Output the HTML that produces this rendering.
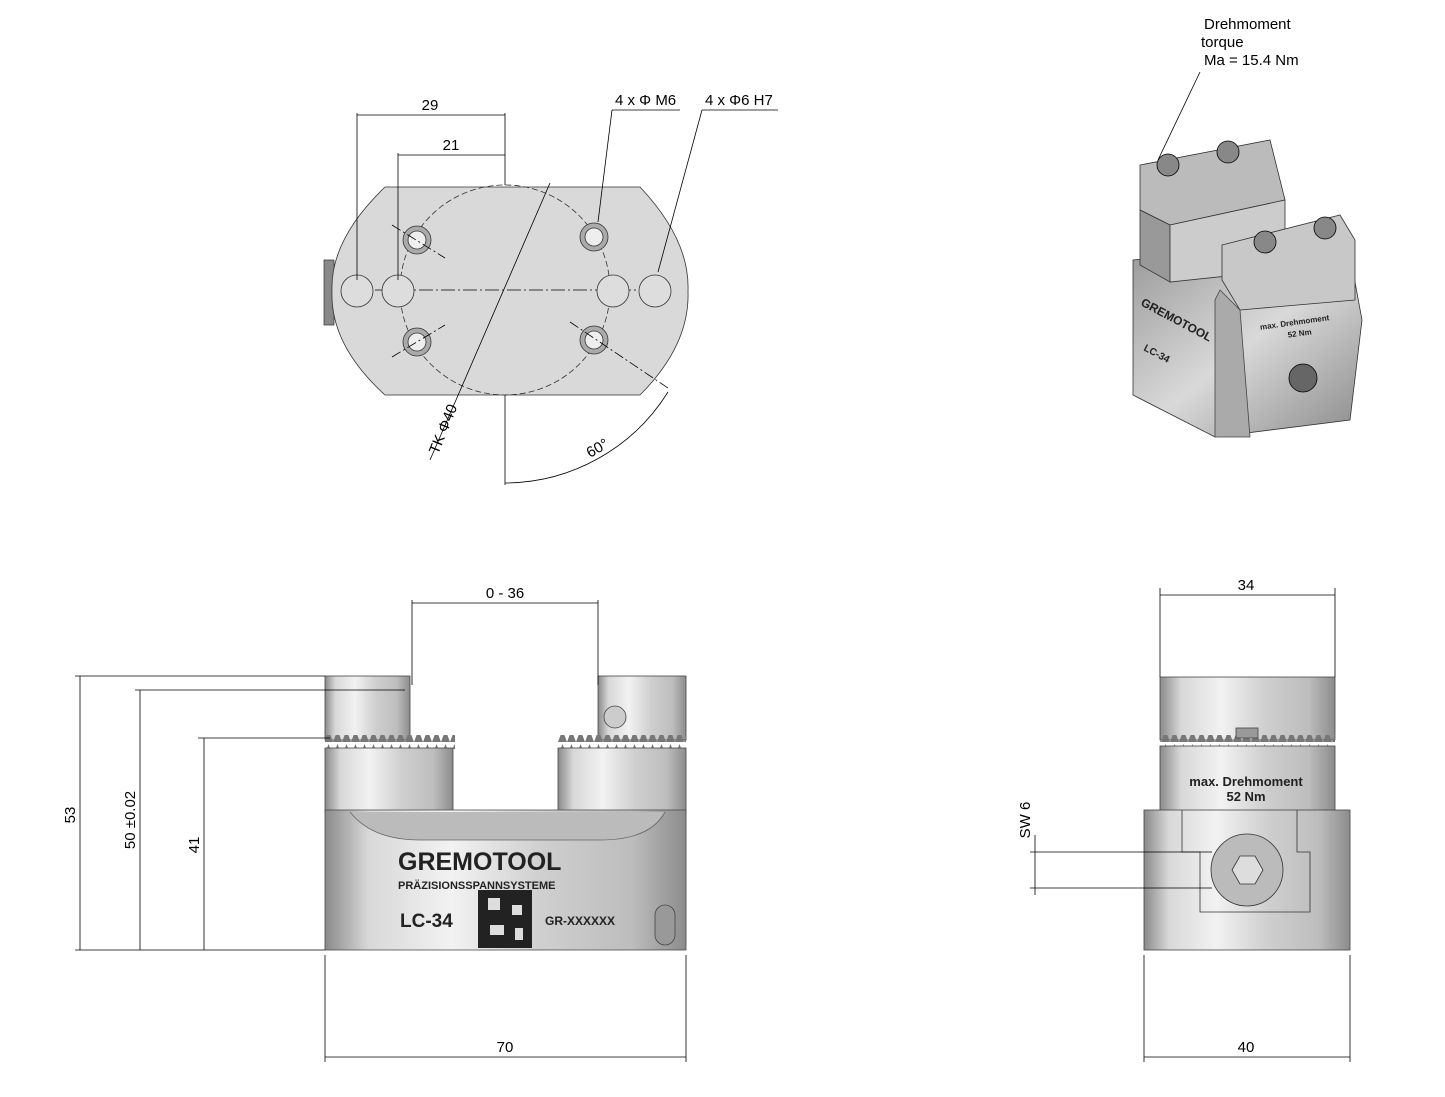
<!DOCTYPE html>
<html><head><meta charset="utf-8"><style>
html,body{margin:0;padding:0;background:#fff;}
svg{display:block;font-family:"Liberation Sans",sans-serif;}
</style></head><body>
<svg width="1445" height="1097" viewBox="0 0 1445 1097" xmlns="http://www.w3.org/2000/svg">
<defs>
<linearGradient id="mh" x1="0" x2="1" y1="0" y2="0">
<stop offset="0" stop-color="#8a8a8a"/><stop offset="0.12" stop-color="#d8d8d8"/><stop offset="0.35" stop-color="#f2f2f2"/><stop offset="0.6" stop-color="#cfcfcf"/><stop offset="0.85" stop-color="#bdbdbd"/><stop offset="1" stop-color="#8c8c8c"/>
</linearGradient>
<linearGradient id="mv" x1="0" x2="0" y1="0" y2="1">
<stop offset="0" stop-color="#b5b5b5"/><stop offset="0.4" stop-color="#e6e6e6"/><stop offset="1" stop-color="#9a9a9a"/>
</linearGradient>
<linearGradient id="iso" x1="0" x2="1" y1="0" y2="1">
<stop offset="0" stop-color="#9a9a9a"/><stop offset="0.5" stop-color="#d9d9d9"/><stop offset="1" stop-color="#8a8a8a"/>
</linearGradient>
<pattern id="serr" width="9" height="14" patternUnits="userSpaceOnUse"><path d="M0 14 L4.5 2 L9 14Z" fill="#777"/></pattern>
</defs>
<g fill="none" stroke="#000" stroke-width="0.8">

<!-- TOP VIEW -->
<rect x="324" y="260" width="10" height="65" fill="#888" stroke="#444"/>
<path d="M385 187 H640 Q690 240 688 291 Q690 345 640 395 H385 Q330 345 332 291 Q330 240 385 187Z" fill="#d9d9d9" stroke="#333"/>
<circle cx="505" cy="290" r="105" stroke-dasharray="6 3" stroke="#333"/>
<line x1="375" y1="290" x2="640" y2="290" stroke-dasharray="14 3 2 3"/>
<g fill="#ddd" stroke="#333">
<circle cx="357" cy="291" r="16"/><circle cx="398" cy="291" r="16"/><circle cx="613" cy="291" r="16"/><circle cx="655" cy="291" r="16"/>
<circle cx="417" cy="240" r="14" fill="#aaa"/><circle cx="594" cy="237" r="14" fill="#aaa"/><circle cx="417" cy="342" r="14" fill="#aaa"/><circle cx="594" cy="340" r="14" fill="#aaa"/>
<circle cx="417" cy="240" r="9" fill="#eee"/><circle cx="594" cy="237" r="9" fill="#eee"/><circle cx="417" cy="342" r="9" fill="#eee"/><circle cx="594" cy="340" r="9" fill="#eee"/>
</g>
<line x1="392" y1="225" x2="445" y2="258" stroke-dasharray="10 3 2 3"/>
<line x1="392" y1="357" x2="445" y2="325" stroke-dasharray="10 3 2 3"/>
<line x1="570" y1="322" x2="668" y2="388" stroke-dasharray="10 3 2 3"/>
<line x1="357" y1="113" x2="357" y2="280"/><line x1="505" y1="113" x2="505" y2="185"/>
<line x1="357" y1="115" x2="505" y2="115"/>
<line x1="398" y1="153" x2="398" y2="280"/>
<line x1="398" y1="155" x2="505" y2="155"/>
<line x1="505" y1="395" x2="505" y2="485"/>
<line x1="598" y1="222" x2="612" y2="110"/><line x1="612" y1="110" x2="680" y2="110"/>
<line x1="658" y1="272" x2="702" y2="110"/><line x1="702" y1="110" x2="778" y2="110"/>
<line x1="550" y1="183" x2="430" y2="460"/>
<path d="M505 483 A193 193 0 0 0 668 392"/>

<!-- FRONT VIEW -->
<rect x="325" y="676" width="85" height="64" fill="url(#mh)" stroke="#444"/>
<rect x="598" y="676" width="88" height="64" fill="url(#mh)" stroke="#444"/>
<circle cx="615" cy="717" r="11" fill="#ccc" stroke="#444"/>
<rect x="325" y="735" width="130" height="14" fill="url(#serr)" stroke="none"/>
<rect x="558" y="735" width="128" height="14" fill="url(#serr)" stroke="none"/>
<rect x="325" y="748" width="128" height="65" fill="url(#mh)" stroke="#444"/>
<rect x="558" y="748" width="128" height="65" fill="url(#mh)" stroke="#444"/>
<path d="M325 810 H686 V950 H325Z" fill="url(#mh)" stroke="#444"/>
<path d="M350 812 Q372 840 420 840 H600 Q650 840 665 812" fill="#bbb" stroke="#666"/>
<rect x="655" y="905" width="20" height="40" rx="10" fill="#999" stroke="#444"/>
<rect x="478" y="890" width="54" height="58" fill="#222" stroke="none"/>
<rect x="488" y="898" width="12" height="12" fill="#ddd" stroke="none"/><rect x="512" y="905" width="10" height="10" fill="#ddd" stroke="none"/><rect x="490" y="925" width="14" height="10" fill="#ddd" stroke="none"/><rect x="515" y="928" width="8" height="12" fill="#ddd" stroke="none"/>
<!-- dims front -->
<line x1="75" y1="676" x2="325" y2="676"/><line x1="135" y1="690" x2="405" y2="690"/><line x1="198" y1="738" x2="330" y2="738"/>
<line x1="75" y1="950" x2="325" y2="950"/>
<line x1="80" y1="676" x2="80" y2="950"/><line x1="140" y1="690" x2="140" y2="950"/><line x1="204" y1="738" x2="204" y2="950"/>
<line x1="412" y1="600" x2="412" y2="685"/><line x1="598" y1="600" x2="598" y2="685"/><line x1="412" y1="603" x2="598" y2="603"/>
<line x1="325" y1="955" x2="325" y2="1062"/><line x1="686" y1="955" x2="686" y2="1062"/><line x1="325" y1="1057" x2="686" y2="1057"/>

<!-- SIDE VIEW -->
<rect x="1160" y="677" width="175" height="63" fill="url(#mh)" stroke="#444"/>
<rect x="1160" y="735" width="175" height="12" fill="url(#serr)" stroke="none"/>
<rect x="1160" y="746" width="175" height="66" fill="url(#mh)" stroke="#444"/>
<rect x="1144" y="810" width="206" height="140" fill="url(#mh)" stroke="#444"/>
<path d="M1182 810 V852 H1200 V912 H1310 V852 H1297 V810" fill="none" stroke="#333"/>
<circle cx="1247" cy="870" r="36" fill="#bbb" stroke="#333"/>
<polygon points="1232,870 1240,856 1255,856 1263,870 1255,884 1240,884" fill="#ddd" stroke="#333"/>
<rect x="1236" y="728" width="22" height="10" fill="#999" stroke="#444"/>
<line x1="1160" y1="588" x2="1160" y2="677"/><line x1="1335" y1="588" x2="1335" y2="677"/><line x1="1160" y1="595" x2="1335" y2="595"/>
<line x1="1144" y1="955" x2="1144" y2="1062"/><line x1="1350" y1="955" x2="1350" y2="1062"/><line x1="1144" y1="1057" x2="1350" y2="1057"/>
<line x1="1030" y1="852" x2="1212" y2="852"/><line x1="1030" y1="888" x2="1212" y2="888"/><line x1="1035" y1="835" x2="1035" y2="895"/>

<!-- ISO VIEW -->
<polygon points="1133,260 1133,395 1215,437 1350,420 1362,320 1350,255 1230,250" fill="url(#iso)" stroke="#333"/>
<polygon points="1140,165 1270,140 1285,200 1170,225 1140,210" fill="#bbb" stroke="#333"/>
<polygon points="1140,210 1170,225 1170,282 1140,265" fill="#999" stroke="#333"/>
<polygon points="1170,225 1285,200 1285,270 1170,282" fill="#ccc" stroke="#333"/>
<polygon points="1222,245 1340,215 1355,240 1355,300 1240,310 1222,280" fill="#c8c8c8" stroke="#333"/>
<polygon points="1220,290 1240,310 1250,437 1215,437 1215,300" fill="#aaa" stroke="#444"/>
<circle cx="1168" cy="165" r="11" fill="#888"/><circle cx="1228" cy="152" r="11" fill="#888"/>
<circle cx="1265" cy="242" r="11" fill="#888"/><circle cx="1325" cy="228" r="11" fill="#888"/>
<circle cx="1303" cy="378" r="14" fill="#666"/>
<line x1="1158" y1="160" x2="1200" y2="72"/>
</g>
<g font-size="15" fill="#000">
<text x="430" y="110" text-anchor="middle">29</text>
<text x="451" y="150" text-anchor="middle">21</text>
<text x="615" y="105">4 x Φ M6</text>
<text x="705" y="105">4 x Φ6 H7</text>
<text transform="translate(438,455) rotate(-68)">TK Φ40</text>
<text transform="translate(590,458) rotate(-30)">60°</text>
<text x="505" y="598" text-anchor="middle">0 - 36</text>
<text x="505" y="1052" text-anchor="middle">70</text>
<text transform="translate(75,815) rotate(-90)" text-anchor="middle">53</text>
<text transform="translate(135,820) rotate(-90)" text-anchor="middle">50 ±0.02</text>
<text transform="translate(199,845) rotate(-90)" text-anchor="middle">41</text>
<text x="1246" y="590" text-anchor="middle">34</text>
<text x="1246" y="1052" text-anchor="middle">40</text>
<text transform="translate(1030,820) rotate(-90)" text-anchor="middle">SW 6</text>
<text x="1204" y="29">Drehmoment</text>
<text x="1201" y="47">torque</text>
<text x="1204" y="65">Ma = 15.4 Nm</text>
</g>
<g font-weight="bold" fill="#222">
<text x="398" y="870" font-size="25">GREMOTOOL</text>
<text x="398" y="889" font-size="11">PRÄZISIONSSPANNSYSTEME</text>
<text x="400" y="927" font-size="19">LC-34</text>
<text x="545" y="925" font-size="12">GR-XXXXXX</text>
<text x="1246" y="786" font-size="13" text-anchor="middle">max. Drehmoment</text>
<text x="1246" y="801" font-size="13" text-anchor="middle">52 Nm</text>
<text x="1295" y="325" font-size="8" text-anchor="middle" transform="rotate(-8 1295 325)">max. Drehmoment</text>
<text x="1300" y="336" font-size="8" text-anchor="middle" transform="rotate(-8 1300 336)">52 Nm</text>
<text x="1140" y="305" font-size="12" transform="rotate(28 1140 305)">GREMOTOOL</text>
<text x="1143" y="350" font-size="10" transform="rotate(28 1143 350)">LC-34</text>
</g>
</svg>
</body></html>
